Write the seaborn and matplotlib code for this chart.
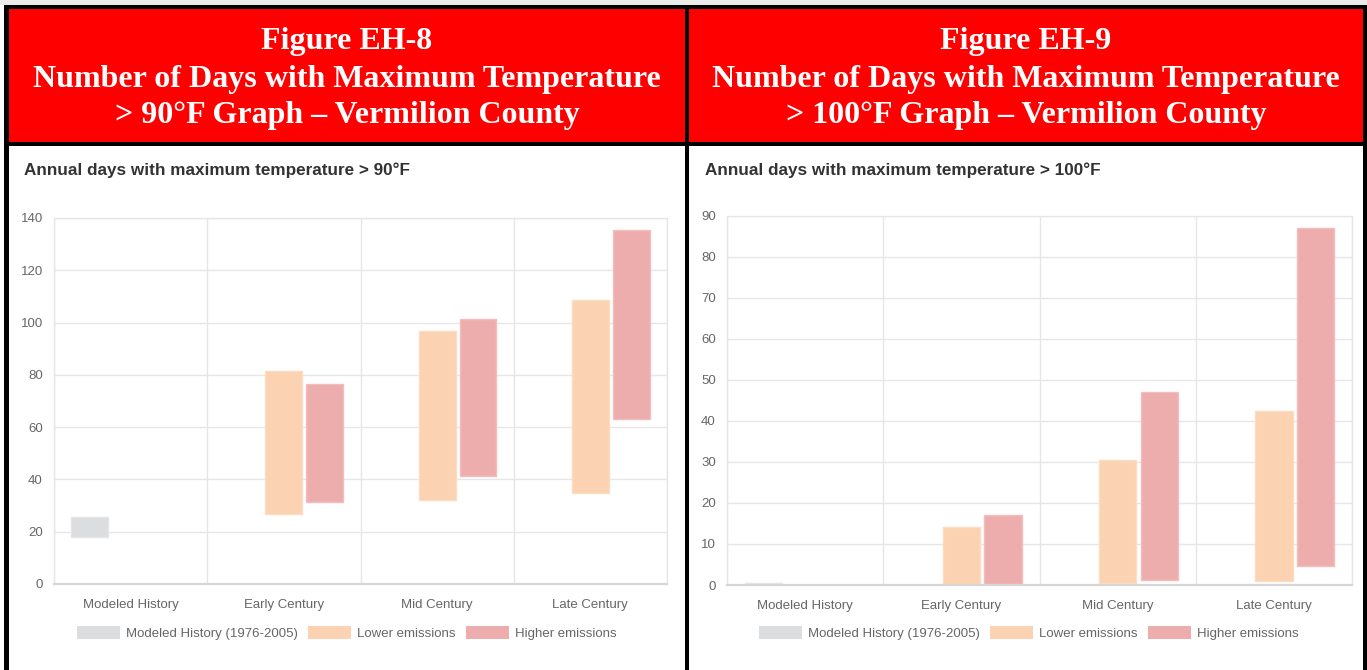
"""
Vermilion County heat-day ranges: two side-by-side floating bar charts
(days > 90°F and days > 100°F) under red report-style headers.
"""

import pandas as pd
import seaborn as sns
import matplotlib.pyplot as plt
from matplotlib.patches import Rectangle

# =============================================================================
# Data
# =============================================================================

periods = ["Modeled History", "Early Century", "Mid Century", "Late Century"]
series = ["Modeled History (1976-2005)", "Lower emissions", "Higher emissions"]

# days > 90°F : (low, high) of each range
hist_90 = (17.8, 25.6)
lower_90_low = [26.7, 32.0, 34.9]
lower_90_high = [81.5, 96.9, 108.5]
higher_90_low = [31.4, 41.4, 63.3]
higher_90_high = [76.5, 101.2, 135.4]

# days > 100°F
hist_100 = (0.0, 0.6)
lower_100_low = [0.0, 0.6, 1.0]
lower_100_high = [14.1, 30.4, 42.5]
higher_100_low = [0.2, 1.2, 4.6]
higher_100_high = [17.0, 47.1, 87.0]

y_ticks_90 = list(range(0, 141, 20))
y_ticks_100 = list(range(0, 91, 10))

titles = ["Annual days with maximum temperature > 90°F",
          "Annual days with maximum temperature > 100°F"]
headers = [["Figure EH-8", "Number of Days with Maximum Temperature",
            "> 90°F Graph – Vermilion County"],
           ["Figure EH-9", "Number of Days with Maximum Temperature",
            "> 100°F Graph – Vermilion County"]]

colors = ["#DCDDDF", "#FBD3B2", "#EEADAD"]
edges = ["#E4E5E7", "#FCDCC2", "#F2BDBD"]
grid_col = "#E6E6E6"
tick_col = "#666666"
label_size = 9.5

W, H = 1367, 670


def build_frame(hist, lo_low, lo_high, hi_low, hi_high):
    rows = [(periods[0], series[0], hist[0], hist[1])]
    for i, p in enumerate(periods[1:]):
        rows.append((p, series[1], lo_low[i], lo_high[i]))
    for i, p in enumerate(periods[1:]):
        rows.append((p, series[2], hi_low[i], hi_high[i]))
    df = pd.DataFrame(rows, columns=["period", "series", "low", "high"])
    df["span"] = df["high"] - df["low"]
    return df


def px_rect(l, t, r, b):
    return [l / W, 1 - b / H, (r - l) / W, (b - t) / H]


def draw_panel(fig, df, rect, yticks, title, title_xy, legend_center):
    ax = fig.add_axes(px_rect(*rect))
    sns.barplot(data=df, x="period", y="span", hue="series", order=periods,
                hue_order=series, palette=colors, saturation=1, width=0.8,
                gap=0.1, dodge=True, errorbar=None, ax=ax,
                edgecolor=None, linewidth=0)

    # float each bar to its lower bound
    for container, name, ec in zip(ax.containers, series, edges):
        sub = df[df["series"] == name]
        for bar, low in zip(container, sub["low"]):
            bar.set_y(low)
            bar.set_edgecolor(ec)
            bar.set_linewidth(1.0)

    ax.set_xlim(-0.5, 3.5)
    ax.set_ylim(0, yticks[-1])
    ax.set_yticks(yticks)
    ax.set_xticks([-0.5, 0.5, 1.5, 2.5, 3.5], minor=True)
    ax.set_xlabel("")
    ax.set_ylabel("")

    ax.grid(axis="y", which="major", color=grid_col, lw=1)
    ax.grid(axis="x", which="minor", color=grid_col, lw=1)
    ax.grid(axis="x", which="major", visible=False)
    ax.set_axisbelow(True)
    for side, sp in ax.spines.items():
        sp.set_visible(True)
        sp.set_color(grid_col)
        sp.set_linewidth(1)
    ax.spines["bottom"].set_color("#D6D6D6")
    ax.spines["bottom"].set_linewidth(1.6)

    ax.tick_params(axis="y", length=6, color=grid_col, pad=2,
                   labelsize=label_size, labelcolor=tick_col)
    ax.tick_params(axis="x", which="major", length=0, pad=11,
                   labelsize=label_size, labelcolor=tick_col)
    ax.tick_params(axis="x", which="minor", length=6, color=grid_col)

    sns.move_legend(ax, "center", bbox_to_anchor=(legend_center[0] / W, 1 - legend_center[1] / H),
                    bbox_transform=fig.transFigure, ncol=3, frameon=False,
                    title="", fontsize=label_size, handlelength=3.25, handleheight=1.2,
                    handletextpad=0.45, columnspacing=0.8)
    for t in ax.get_legend().get_texts():
        t.set_color(tick_col)

    fig.text(title_xy[0] / W, 1 - title_xy[1] / H, title, ha="left", va="center",
             fontsize=12.3, fontweight="bold", color="#333333")
    return ax


def main():
    sns.set_theme(style="white")
    plt.rcParams["font.family"] = ["Liberation Sans", "DejaVu Sans"]

    fig = plt.figure(figsize=(W / 100, H / 100), dpi=100)
    fig.patch.set_facecolor("white")

    # header band, borders and divider
    def box(l, t, r, b, color):
        fig.add_artist(Rectangle((l / W, 1 - b / H), (r - l) / W, (b - t) / H,
                                 transform=fig.transFigure, facecolor=color,
                                 edgecolor="none", zorder=0))

    box(0, 0, W, 5, "#EBEBEB")
    box(9, 9, 1363, 142, "#FF0000")
    box(4, 5, W, 9, "black")
    box(4, 142, W, 146, "black")
    box(4, 5, 9, H, "black")
    box(1363, 5, W, H, "black")
    box(685, 5, 689, H, "black")

    for cx, lines in zip([347, 1026], headers):
        for y, line in zip([42, 79, 116], lines):
            fig.text(cx / W, 1 - y / H, line, ha="center", va="center",
                     fontsize=23, fontweight="bold", color="white",
                     family=["Liberation Serif", "DejaVu Serif"])

    df90 = build_frame(hist_90, lower_90_low, lower_90_high, higher_90_low, higher_90_high)
    df100 = build_frame(hist_100, lower_100_low, lower_100_high, higher_100_low, higher_100_high)

    draw_panel(fig, df90, (54, 218, 667, 584), y_ticks_90, titles[0], (24, 170), (347, 633))
    draw_panel(fig, df100, (727, 216, 1352, 585), y_ticks_100, titles[1], (705, 170), (1029, 633))

    fig.savefig("out.png", dpi=100)


if __name__ == "__main__":
    main()
